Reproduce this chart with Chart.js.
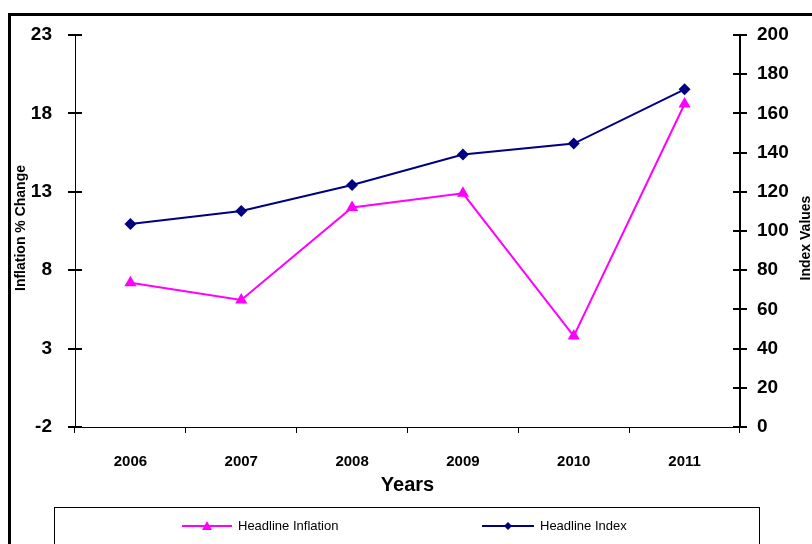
<!DOCTYPE html>
<html>
<head>
<meta charset="utf-8">
<script src="https://cdn.jsdelivr.net/npm/chart.js@4/dist/chart.umd.min.js"></script>
<style>
  html, body { margin: 0; padding: 0; background: #fff; overflow: hidden; }
  #wrap { width: 812px; height: 544px; }
</style>
</head>
<body>
<div id="wrap"><canvas id="chart" width="812" height="544"></canvas></div>
<script>
// data
const years = ['2006', '2007', '2008', '2009', '2010', '2011'];
const headlineInflation = [7.2, 6.1, 12.0, 12.9, 3.8, 18.6];
const headlineIndex = [103.6, 110.2, 123.5, 139.0, 144.6, 172.3];
const leftTicks = [-2, 3, 8, 13, 18, 23];
const rightTicks = [0, 20, 40, 60, 80, 100, 120, 140, 160, 180, 200];

const FONT = '"Liberation Sans", Arial, sans-serif';

// frame, y-axis titles, inner half of the y ticks, legend box
const extras = {
    id: 'extras',
    beforeDraw(chart) {
        const ctx = chart.ctx;
        ctx.save();
        ctx.fillStyle = '#fff';
        ctx.fillRect(0, 0, chart.width, chart.height);
        ctx.strokeStyle = '#000';
        ctx.lineWidth = 3;
        ctx.strokeRect(9.5, 14.5, 900, 600);
        ctx.restore();
    },
    afterDraw(chart) {
        const ctx = chart.ctx;
        const y = chart.scales.y, y1 = chart.scales.y1;
        ctx.save();
        ctx.strokeStyle = '#000';
        // tick marks cross the axis line
        ctx.lineWidth = 2;
        leftTicks.forEach(v => {
            const py = Math.round(y.getPixelForValue(v));
            ctx.beginPath(); ctx.moveTo(y.right, py); ctx.lineTo(y.right + 7, py); ctx.stroke();
        });
        rightTicks.forEach(v => {
            const py = Math.round(y1.getPixelForValue(v));
            ctx.beginPath(); ctx.moveTo(y1.left - 7, py); ctx.lineTo(y1.left, py); ctx.stroke();
        });

        // axis titles, both read bottom to top
        ctx.fillStyle = '#000';
        ctx.font = 'bold 14px ' + FONT;
        ctx.textAlign = 'center';
        ctx.textBaseline = 'middle';
        ctx.save();
        ctx.translate(21, 228);
        ctx.rotate(-Math.PI / 2);
        ctx.fillText('Inflation % Change', 0, 0);
        ctx.restore();
        ctx.save();
        ctx.translate(806, 238);
        ctx.rotate(-Math.PI / 2);
        ctx.fillText('Index Values', 0, 0);
        ctx.restore();

        // legend
        ctx.lineWidth = 1;
        ctx.strokeRect(54.5, 507.5, 705, 60);
        const items = [
            { ds: chart.data.datasets[0], x1: 182, x2: 232 },
            { ds: chart.data.datasets[1], x1: 482, x2: 534 }
        ];
        const ly = 526;
        items.forEach(it => {
            const ds = it.ds;
            ctx.strokeStyle = ds.borderColor;
            ctx.fillStyle = ds.borderColor;
            ctx.lineWidth = 2;
            ctx.beginPath(); ctx.moveTo(it.x1, ly); ctx.lineTo(it.x2, ly); ctx.stroke();
            const mx = (it.x1 + it.x2) / 2;
            ctx.beginPath();
            if (ds.pointStyle === 'triangle') {
                ctx.moveTo(mx, ly - 5); ctx.lineTo(mx + 5, ly + 4); ctx.lineTo(mx - 5, ly + 4);
            } else {
                ctx.moveTo(mx, ly - 4); ctx.lineTo(mx + 4, ly); ctx.lineTo(mx, ly + 4); ctx.lineTo(mx - 4, ly);
            }
            ctx.closePath(); ctx.fill();
            ctx.fillStyle = '#000';
            ctx.font = '13px ' + FONT;
            ctx.textAlign = 'left';
            ctx.fillText(ds.label, it.x2 + 6, ly);
        });
        ctx.restore();
    }
};

const ctx = document.getElementById('chart').getContext('2d');
new Chart(ctx, {
    type: 'line',
    data: {
        labels: years,
        datasets: [
            {
                label: 'Headline Inflation',
                data: headlineInflation,
                yAxisID: 'y',
                borderColor: '#ff00ff',
                backgroundColor: '#ff00ff',
                borderWidth: 2,
                pointStyle: 'triangle',
                pointRadius: 7,
                pointBorderWidth: 0,
                tension: 0
            },
            {
                label: 'Headline Index',
                data: headlineIndex,
                yAxisID: 'y1',
                borderColor: '#000080',
                backgroundColor: '#000080',
                borderWidth: 2,
                pointStyle: 'rectRot',
                pointRadius: 6,
                pointBorderWidth: 0,
                tension: 0
            }
        ]
    },
    options: {
        responsive: false,
        animation: false,
        maintainAspectRatio: false,
        layout: { padding: { top: 35, bottom: 47, left: 0, right: 0 } },
        plugins: {
            legend: { display: false },
            tooltip: { enabled: false }
        },
        scales: {
            x: {
                offset: true,
                grid: { offset: true, drawOnChartArea: false, drawTicks: true, tickLength: 6, color: '#000', lineWidth: 1 },
                border: { color: '#000', width: 1 },
                ticks: { color: '#000', font: { family: FONT, size: 15, weight: 'bold' }, padding: 20, maxRotation: 0 },
                title: { display: true, text: 'Years', color: '#000', font: { family: FONT, size: 20, weight: 'bold' }, padding: 0 },
                afterFit: s => { s.height = 70; }
            },
            y: {
                position: 'left',
                min: -2,
                max: 23,
                afterBuildTicks: s => { s.ticks = leftTicks.map(v => ({ value: v })); },
                grid: { drawOnChartArea: false, tickLength: 7, color: '#000', lineWidth: 2 },
                border: { color: '#000', width: 1 },
                ticks: { color: '#000', font: { family: FONT, size: 19, weight: 'bold' }, padding: 16 },
                afterFit: s => { s.width = 75; }
            },
            y1: {
                position: 'right',
                min: 0,
                max: 200,
                afterBuildTicks: s => { s.ticks = rightTicks.map(v => ({ value: v })); },
                grid: { drawOnChartArea: false, tickLength: 7, color: '#000', lineWidth: 2 },
                border: { color: '#000', width: 2 },
                ticks: { color: '#000', font: { family: FONT, size: 19, weight: 'bold' }, padding: 10 },
                afterFit: s => { s.width = 72; }
            }
        }
    },
    plugins: [extras]
});
</script>
</body>
</html>
